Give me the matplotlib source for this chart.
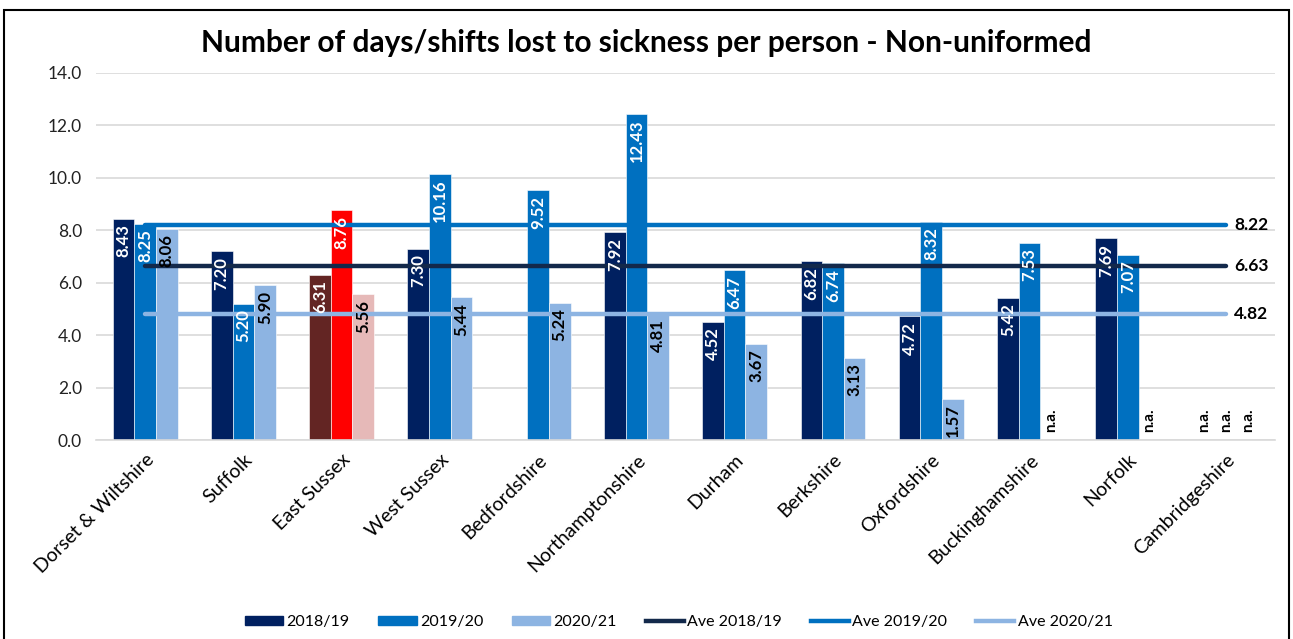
import matplotlib.pyplot as plt
from matplotlib.patches import Patch, Rectangle
from matplotlib.lines import Line2D
import numpy as np

plt.rcParams['font.family'] = ['Lato', 'DejaVu Sans']

# Data
forces = ['Dorset & Wiltshire', 'Suffolk', 'East Sussex', 'West Sussex', 'Bedfordshire',
          'Northamptonshire', 'Durham', 'Berkshire', 'Oxfordshire', 'Buckinghamshire',
          'Norfolk', 'Cambridgeshire']
y2018 = [8.43, 7.20, 6.31, 7.30, None, 7.92, 4.52, 6.82, 4.72, 5.42, 7.69, None]
y2019 = [8.25, 5.20, 8.76, 10.16, 9.52, 12.43, 6.47, 6.74, 8.32, 7.53, 7.07, None]
y2020 = [8.06, 5.90, 5.56, 5.44, 5.24, 4.81, 3.67, 3.13, 1.57, None, None, None]
# cells shown as "n.a." (series index, force index)
na_cells = [(2, 9), (2, 10), (0, 11), (1, 11), (2, 11)]
ave_2018, ave_2019, ave_2020 = 6.63, 8.22, 4.82

series_names = ['2018/19', '2019/20', '2020/21']
colors = ['#002060', '#0070C0', '#8DB4E2']
highlight = 'East Sussex'
hl_colors = ['#632523', '#FF0000', '#E6B9B8']
label_colors = ['white', 'white', 'black']
ave_colors = ['#13294B', '#0070C0', '#8DB4E2']

fig = plt.figure(figsize=(12.93, 6.39), dpi=100)
ax = fig.add_axes([0.0742, 0.3114, 0.912, 0.5744])

x = np.arange(len(forces))
w = 0.22
for s, vals in enumerate([y2018, y2019, y2020]):
    for i, v in enumerate(vals):
        xpos = x[i] + (s - 1) * w
        if v is None:
            if (s, i) in na_cells:
                ax.text(xpos, 0.3, 'n.a.', rotation=90, ha='center', va='bottom',
                        fontsize=11, fontweight='bold', color='black', zorder=5)
            continue
        c = hl_colors[s] if forces[i] == highlight else colors[s]
        ax.bar(xpos, v, width=w, color=c, edgecolor='white', linewidth=0.4, zorder=2)
        ax.annotate(f'{v:.2f}', (xpos, v), xytext=(0, -4), textcoords='offset points',
                    rotation=90, ha='center', va='top', fontsize=12, fontweight='bold',
                    color=label_colors[s], zorder=5)

# average lines from first to last category
for ave, c in zip([ave_2019, ave_2018, ave_2020], [ave_colors[1], ave_colors[0], ave_colors[2]]):
    ax.plot([x[0], x[-1]], [ave, ave], color=c, linewidth=3.2, solid_capstyle='round', zorder=4)
    ax.annotate(f'{ave:.2f}', (x[-1], ave), xytext=(6, 0), textcoords='offset points',
                ha='left', va='center', fontsize=12.5, fontweight='bold', color='black')

ax.set_xlim(-0.5, len(forces) - 0.5)
ax.set_ylim(0, 14)
ax.set_yticks(np.arange(0, 14.1, 2))
ax.set_yticklabels([f'{t:.1f}' for t in np.arange(0, 14.1, 2)], fontsize=12.5, color='#222222')
ax.yaxis.grid(True, color='#D9D9D9', linewidth=1.2, zorder=0)
ax.set_axisbelow(True)
ax.set_xticks(x)
ax.set_xticklabels(forces, rotation=45, ha='right', rotation_mode='anchor', fontsize=14)
ax.tick_params(axis='both', length=0)
ax.tick_params(axis='x', pad=8)
ax.tick_params(axis='y', pad=10)
for sp in ['top', 'right', 'left']:
    ax.spines[sp].set_visible(False)
ax.spines['bottom'].set_color('#D9D9D9')
ax.spines['bottom'].set_linewidth(1.2)

fig.text(0.5, 0.933, 'Number of days/shifts lost to sickness per person - Non-uniformed',
         ha='center', va='center', fontsize=21.5, fontweight='bold')

handles = [Patch(color=c) for c in colors] + \
          [Line2D([0], [0], color=c, linewidth=3.2) for c in ave_colors]
labels = series_names + ['Ave ' + n for n in series_names]
fig.legend(handles, labels, loc='center', bbox_to_anchor=(0.525, 0.027), ncol=6,
           frameon=False, fontsize=11.5, handlelength=2.4, handleheight=0.5,
           columnspacing=1.8, handletextpad=0.2)

fig.add_artist(Rectangle((0.003, -0.01), 0.994, 0.995, transform=fig.transFigure,
                         fill=False, edgecolor='black', linewidth=1.5))

fig.savefig('out.png', dpi=100)
